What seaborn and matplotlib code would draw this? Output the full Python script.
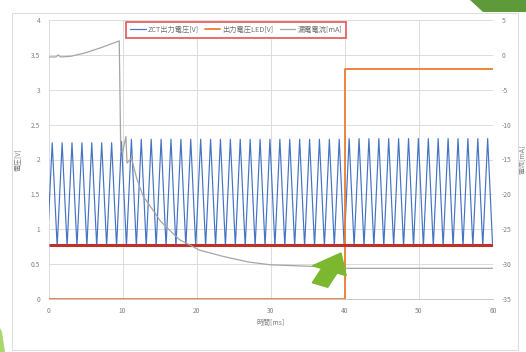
import numpy as np
import pandas as pd
import matplotlib.pyplot as plt
import seaborn as sns
from matplotlib.patches import Polygon, Rectangle, FancyArrow

# ZCT output voltage [V] - triangle wave vertices
zct_peak_t = [0.50, 1.84, 3.17, 4.51, 5.84, 7.18, 8.52, 9.85, 11.19, 12.52,
              13.86, 15.20, 16.53, 17.87, 19.20, 20.54, 21.88, 23.21, 24.55, 25.88,
              27.22, 28.56, 29.89, 31.23, 32.56, 33.90, 35.24, 36.57, 37.91, 39.24,
              40.58, 41.92, 43.25, 44.59, 45.92, 47.26, 48.60, 49.93, 51.27, 52.60,
              53.94, 55.28, 56.61, 57.95, 59.28]
zct_peak_v = [2.24, 2.24, 2.24, 2.24, 2.24, 2.24, 2.24, 2.26, 2.29, 2.29,
              2.29, 2.29, 2.29, 2.29, 2.29, 2.29, 2.29, 2.29, 2.29, 2.29,
              2.29, 2.29, 2.29, 2.29, 2.29, 2.29, 2.29, 2.29, 2.29, 2.29,
              2.30, 2.30, 2.30, 2.30, 2.30, 2.30, 2.30, 2.30, 2.30, 2.30,
              2.30, 2.30, 2.30, 2.30, 2.30]
zct_trough_t = [0.00, 1.17, 2.51, 3.84, 5.18, 6.51, 7.85, 9.19, 10.52, 11.86, 13.19,
                14.53, 15.87, 17.20, 18.54, 19.87, 21.21, 22.55, 23.88, 25.22, 26.55,
                27.89, 29.23, 30.56, 31.90, 33.23, 34.57, 35.91, 37.24, 38.58, 39.91,
                41.25, 42.59, 43.92, 45.26, 46.59, 47.93, 49.27, 50.60, 51.94, 53.27,
                54.61, 55.95, 57.28, 58.62, 59.95]
zct_trough_v = [1.13, 0.75, 0.75, 0.75, 0.75, 0.75, 0.75, 0.75, 0.75, 0.75, 0.75,
                0.75, 0.75, 0.75, 0.75, 0.75, 0.75, 0.75, 0.75, 0.75, 0.75,
                0.75, 0.75, 0.75, 0.75, 0.75, 0.75, 0.75, 0.75, 0.75, 0.75,
                0.75, 0.75, 0.75, 0.75, 0.75, 0.75, 0.75, 0.75, 0.75, 0.75,
                0.75, 0.75, 0.75, 0.75, 0.76]

# LED output voltage [V]
led_t = [0, 40, 40, 60]
led_v = [0, 0, 3.3, 3.3]

# leakage current [mA] (right axis)
leak_t = [0, 1.0, 1.3, 1.6, 3.0, 5.0, 7.0, 9.55, 9.75, 10.0, 10.45, 10.6, 11.2,
          11.9, 12.8, 14.4, 15.0, 16.0, 17.7, 20.4, 23.6, 27.0, 30.0, 35.0, 39.8,
          40.2, 47.0, 60.0]
leak_ma = [-0.3, -0.3, 0.0, -0.3, -0.2, 0.3, 1.0, 2.0, -13.8, -14.0, -11.7, -15.5, -14.8,
           -17.7, -20.3, -22.7, -23.7, -24.8, -26.5, -28.0, -28.9, -29.7, -30.1, -30.3, -30.45,
           -30.6, -30.6, -30.6]

red_level = 0.77

x_ticks = [0, 10, 20, 30, 40, 50, 60]
left_ticks = [0, 0.5, 1, 1.5, 2, 2.5, 3, 3.5, 4]
right_ticks = [-35, -30, -25, -20, -15, -10, -5, 0, 5]

labels = ['ZCT出力電圧[V]', '出力電圧LED[V]', '漏電電流[mA]']

sns.set_style('white')
plt.rcParams['font.family'] = ['Noto Sans CJK JP', 'DejaVu Sans']

W, H = 526, 352
fig = plt.figure(figsize=(W / 100, H / 100), dpi=100)

# slide decorations
fig.patches.append(Rectangle((12 / W, 1 - 350 / H), 506 / W, 337 / H, transform=fig.transFigure,
                             fill=False, edgecolor='#dddddd', linewidth=0.8))
fig.patches.append(Polygon([(470 / W, 1), (1, 1), (1, 1 - 12 / H), (483 / W, 1 - 12 / H)],
                           closed=True, transform=fig.transFigure, facecolor='#5f9a3a', edgecolor='none'))
fig.patches.append(Polygon([(0, 0), (5 / W, 0), (2 / W, 20 / H), (0, 24 / H)],
                           closed=True, transform=fig.transFigure, facecolor='#a8d86a', edgecolor='none'))

ax = fig.add_axes([48.5 / W, 1 - 299 / H, (493 - 48.5) / W, (299 - 20) / H])
ax2 = ax.twinx()

zct = pd.DataFrame({'t': zct_peak_t + zct_trough_t, 'v': zct_peak_v + zct_trough_v}).sort_values('t')
led = pd.DataFrame({'t': led_t, 'v': led_v})
leak = pd.DataFrame({'t': leak_t, 'ma': leak_ma})

sns.lineplot(data=zct, x='t', y='v', ax=ax, color='#4472C4', linewidth=0.85, sort=False,
             estimator=None, label=labels[0], legend=False)
sns.lineplot(data=led, x='t', y='v', ax=ax, color='#ED7D31', linewidth=1.3, sort=False,
             estimator=None, label=labels[1], legend=False)
ax.hlines(red_level, 0, 60, color='#c0302a', linewidth=2.2, zorder=5)
sns.lineplot(data=leak, x='t', y='ma', ax=ax2, color='#a5a5a5', linewidth=0.9, sort=False,
             estimator=None, label=labels[2], legend=False)

ax.set_xlim(0, 60)
ax.set_ylim(0, 4)
ax2.set_ylim(-35, 5)
ax.set_xticks(x_ticks)
ax.set_yticks(left_ticks)
ax2.set_yticks(right_ticks)
ax.set_yticklabels(['{:g}'.format(v) for v in left_ticks])
ax2.set_yticklabels(['{:g}'.format(v) for v in right_ticks])
ax.grid(True, color='#dcdcdc', linewidth=0.7)
ax.set_axisbelow(True)
for a in (ax, ax2):
    a.tick_params(length=0, labelsize=4.8, labelcolor='#808080', pad=6)
    for s in a.spines.values():
        s.set_visible(False)
ax.spines['bottom'].set_visible(True)
ax.spines['bottom'].set_color('#c8c8c8')
ax.spines['bottom'].set_linewidth(0.7)

ax.set_xlabel('時間[ms]', fontsize=5, color='#808080', labelpad=3)
ax.set_ylabel('電圧[V]', fontsize=5, color='#808080')
ax2.set_ylabel('電流[mA]', fontsize=5, color='#808080', rotation=90)
ax.yaxis.set_label_coords(-0.06, 0.5)
ax2.yaxis.set_label_coords(1.055, 0.5)

handles = ax.get_lines()[:2] + ax2.get_lines()[:1]
leg = ax2.legend(handles, labels, ncol=3, loc='center', bbox_to_anchor=(236 / W, 1 - 30 / H),
                 bbox_transform=fig.transFigure, fontsize=5.2, frameon=True, fancybox=False,
                 handlelength=2.2, handletextpad=0.3, columnspacing=0.8, borderpad=0.5)
for t in leg.get_texts():
    t.set_color('#707070')
leg.get_frame().set_edgecolor('#e05555')
leg.get_frame().set_linewidth(1.2)
leg.get_frame().set_alpha(1)

# green pointer arrow
fig.patches.append(FancyArrow(320 / W, 1 - 285 / H, 21 / W, 32 / H, width=0.032, head_width=0.07,
                              head_length=0.055, length_includes_head=True,
                              transform=fig.transFigure, color='#7cb82f', zorder=10))

fig.savefig('out.png', dpi=100)
